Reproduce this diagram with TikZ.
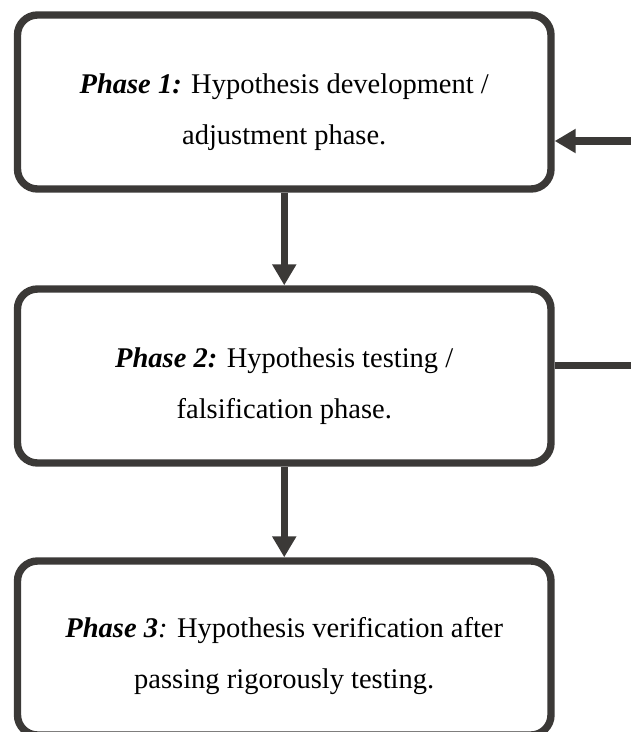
\documentclass[tikz,border=0pt]{standalone}
\usepackage{fontspec}
\setmainfont{Liberation Serif}
\usetikzlibrary{arrows.meta}
\definecolor{frame}{HTML}{3B3937}
\begin{document}
\begin{tikzpicture}[x=1pt,y=-1pt,
  phasebox/.style={draw=frame, line width=7.4pt, rounded corners=20pt,
    minimum width=533.5pt, minimum height=174pt, inner sep=0pt},
  phasetext/.style={align=center, inner sep=0pt,
    font=\fontsize{28.5}{51}\selectfont},
  link/.style={draw=frame, line width=7.4pt},
  arrowlink/.style={link, -{Triangle[width=23pt,length=21pt]}}]
\useasboundingbox (0,0) rectangle (631,732);

% the three phase frames
\node[phasebox] (p1) at (284.25,102) {};
\node[phasebox] (p2) at (284.25,376) {};
\node[phasebox] (p3) at (284.25,648) {};

% their texts, set a little below the frame centre
\node[phasetext] (t1) at ([yshift=-10pt]p1.center)
  {\textbf{\textit{Phase 1:}} Hypothesis development /\\ adjustment phase.};
\node[phasetext] (t2) at ([yshift=-10pt]p2.center)
  {\textbf{\textit{Phase 2:}} Hypothesis testing /\\ falsification phase.};
\node[phasetext] (t3) at ([yshift=-8pt]p3.center)
  {\textbf{\textit{Phase 3}}\textit{:} Hypothesis verification after\\ passing rigorously testing.};

\draw[arrowlink] (p1) -- (p2);
\draw[arrowlink] (p2) -- (p3);

% feedback path leaving the right border
\coordinate (back) at (631,141);
\coordinate (out) at (631,365.5);
\draw[arrowlink] (back) -- (back -| p1.east);
\draw[link] (out -| p2.east) -- (out);
\end{tikzpicture}
\end{document}
